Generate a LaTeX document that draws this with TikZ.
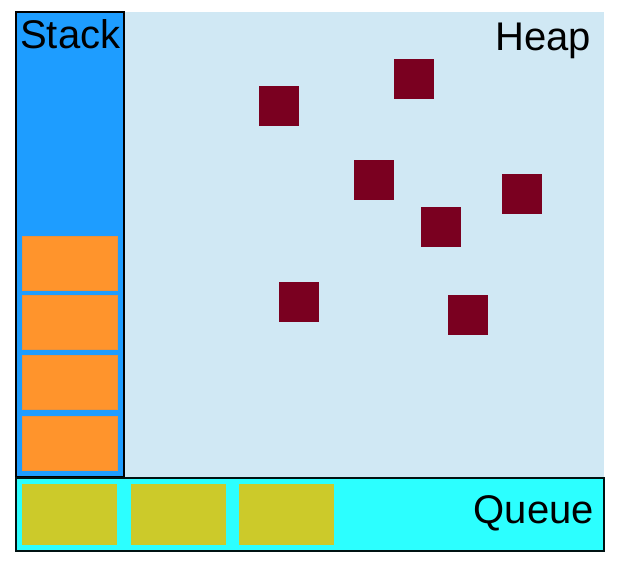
\documentclass[tikz,border=0pt]{standalone}
\usepackage{fontspec}
\setmainfont{Liberation Sans}
\usetikzlibrary{positioning}
\definecolor{stack_blue}{RGB}{30, 157, 255}
\definecolor{heap_blue}{RGB}{208, 232, 244}
\definecolor{queue_cyan}{RGB}{44, 255, 255}
\definecolor{frame_orange}{RGB}{255, 148, 44}
\definecolor{task_olive}{RGB}{204, 202, 42}
\definecolor{obj_red}{RGB}{122, 0, 32}

\begin{document}
\begin{tikzpicture}[x=1pt, y=-1pt,
      area/.style={anchor=north west, inner sep=0pt, outer sep=0pt},
      frame/.style={area, fill=frame_orange, draw=frame_orange!85!gray, line width=0.8pt,
        minimum width=95pt, minimum height=54pt},
      task/.style={area, fill=task_olive, minimum width=95pt, minimum height=61pt},
      obj/.style={area, fill=obj_red, minimum width=40pt, minimum height=40pt},
      lbl/.style={inner sep=0pt, font=\fontsize{40}{48}\selectfont}]
    \useasboundingbox (0,0) rectangle (618,574);
    % regions
    \node[area, fill=heap_blue, minimum width=480pt, minimum height=465pt] (heap) at (124,12) {};
    \node[area, fill=stack_blue, draw=black, line width=2pt,
          minimum width=108pt, minimum height=465pt] (stack) at (16,12) {};
    \node[area, fill=queue_cyan, draw=black!85!teal, line width=1.6pt,
          minimum width=588pt, minimum height=73pt] (queue) at (16,478) {};
    % stack frames
    \foreach \i/\y in {1/236, 2/295, 3/355, 4/416}
      \node[frame] (f\i) at (22,\y) {};
    % queued tasks
    \foreach \i/\x in {1/22, 2/131, 3/239}
      \node[task] (t\i) at (\x,484) {};
    % heap objects
    \foreach \i/\x/\y in {1/259/86, 2/394/59, 3/354/160, 4/502/174,
                          5/421/207, 6/279/282, 7/448/295}
      \node[obj] (o\i) at (\x,\y) {};
    % labels
    \node[lbl, anchor=base west] (stack_lbl) at (20,48) {Stack};
    \node[lbl, anchor=base east] (heap_lbl) at (591,50) {Heap};
    \node[lbl, anchor=base east] (queue_lbl) at (594,523) {Queue};
\end{tikzpicture}
\end{document}
